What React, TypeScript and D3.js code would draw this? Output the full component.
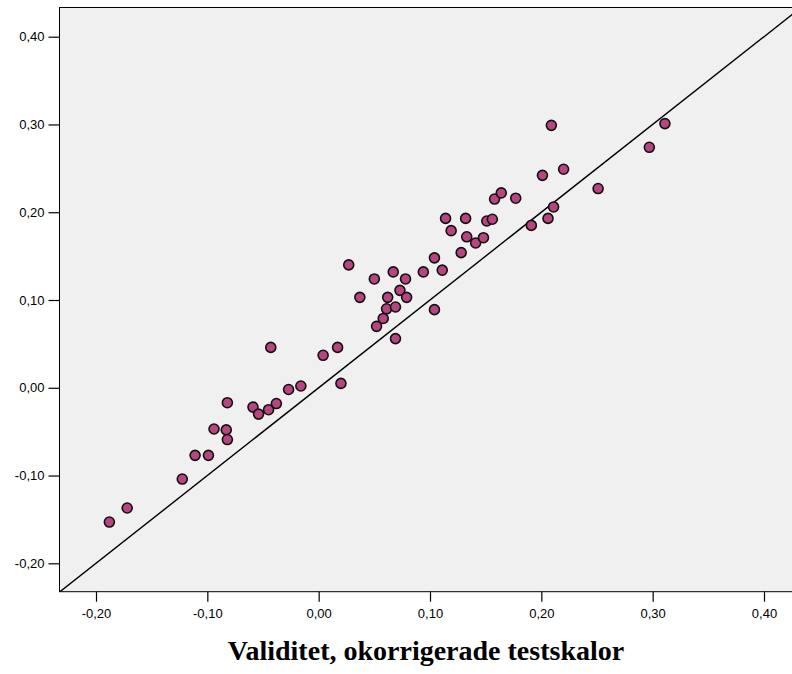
import React, { useEffect, useRef } from 'react';
import * as d3 from 'd3';

// validity values: x = uncorrected scales, y = corrected
const xValues = [
  -0.188, -0.172, -0.1225, -0.111, -0.099, -0.094, -0.082, -0.083, -0.082, -0.059,
  -0.054, -0.045, -0.038, -0.027, -0.016, -0.043, 0.004, 0.017, 0.02, 0.027,
  0.037, 0.05, 0.052, 0.058, 0.061, 0.062, 0.067, 0.069, 0.069, 0.073,
  0.079, 0.078, 0.094, 0.104, 0.104, 0.111, 0.114, 0.119, 0.128, 0.132,
  0.133, 0.141, 0.148, 0.151, 0.156, 0.158, 0.164, 0.177, 0.191, 0.201,
  0.206, 0.209, 0.211, 0.22, 0.251, 0.297, 0.311,
];
const yValues = [
  -0.153, -0.137, -0.104, -0.077, -0.077, -0.047, -0.017, -0.048, -0.059, -0.022,
  -0.03, -0.025, -0.018, -0.002, 0.002, 0.046, 0.037, 0.046, 0.005, 0.14,
  0.103, 0.124, 0.07, 0.079, 0.09, 0.103, 0.132, 0.092, 0.056, 0.111,
  0.103, 0.124, 0.132, 0.148, 0.089, 0.134, 0.193, 0.179, 0.154, 0.193,
  0.172, 0.165, 0.171, 0.19, 0.192, 0.215, 0.222, 0.216, 0.185, 0.242,
  0.193, 0.299, 0.206, 0.249, 0.227, 0.274, 0.301,
];
const tickValues = [-0.2, -0.1, 0, 0.1, 0.2, 0.3, 0.4];
const xTitle = 'Validitet, okorrigerade testskalor';

const W = 792;
const H = 674;
const left = 59.5;
const top = 7.5;
const right = 793;
const bottom = 591.7;

const fmt = (v: number) => v.toFixed(2).replace('.', ',').replace('-0,00', '0,00');

export default function App() {
  const ref = useRef<SVGSVGElement>(null);

  useEffect(() => {
    const svg = d3.select(ref.current);
    svg.selectAll('*').remove();

    const x = d3.scaleLinear().domain([-0.2, 0.4]).range([96, 764]);
    const y = d3.scaleLinear().domain([-0.2, 0.4]).range([563.3, 36.7]);

    svg.append('rect')
      .attr('x', left).attr('y', top)
      .attr('width', right - left).attr('height', bottom - top)
      .attr('fill', '#f0f0f0')
      .attr('stroke', '#000').attr('stroke-width', 1);

    // identity line, clipped to plot
    svg.append('clipPath').attr('id', 'plotclip')
      .append('rect')
      .attr('x', left).attr('y', top)
      .attr('width', right - left).attr('height', bottom - top);

    const lo = x.invert(left);
    const hi = x.invert(right);
    svg.append('line')
      .attr('clip-path', 'url(#plotclip)')
      .attr('x1', x(lo)).attr('y1', y(lo))
      .attr('x2', x(hi)).attr('y2', y(hi))
      .attr('stroke', '#000').attr('stroke-width', 1.4);

    const pts = xValues.map((v, i) => ({ x: v, y: yValues[i] }));
    svg.append('g').selectAll('circle')
      .data(pts)
      .enter().append('circle')
      .attr('cx', (d) => x(d.x))
      .attr('cy', (d) => y(d.y))
      .attr('r', 5)
      .attr('fill', '#b8457f')
      .attr('stroke', '#111')
      .attr('stroke-width', 1.6);

    const xAxis = d3.axisBottom(x).tickValues(tickValues).tickSize(10).tickPadding(7)
      .tickFormat((d) => fmt(d as number));
    const gx = svg.append('g').attr('transform', `translate(0, ${bottom})`).call(xAxis);
    gx.select('.domain').remove();

    const yAxis = d3.axisLeft(y).tickValues(tickValues).tickSize(11).tickPadding(4)
      .tickFormat((d) => fmt(d as number));
    const gy = svg.append('g').attr('transform', `translate(${left}, 0)`).call(yAxis);
    gy.select('.domain').remove();

    [gx, gy].forEach((g) => {
      g.selectAll('line').attr('stroke', '#000').attr('stroke-width', 1.2);
      g.selectAll('text')
        .attr('fill', '#000')
        .style('font-family', '"Liberation Sans", Arial, sans-serif')
        .style('font-size', '13px');
    });

    svg.append('text')
      .attr('x', 426).attr('y', 660)
      .attr('text-anchor', 'middle')
      .style('font-family', '"Liberation Serif", "Times New Roman", serif')
      .style('font-weight', 'bold')
      .style('font-size', '28px')
      .text(xTitle);
  }, []);

  return (
    <svg
      ref={ref}
      width={W}
      height={H}
      style={{ position: 'absolute', left: 0, top: 0, background: '#fff' }}
    />
  );
}
